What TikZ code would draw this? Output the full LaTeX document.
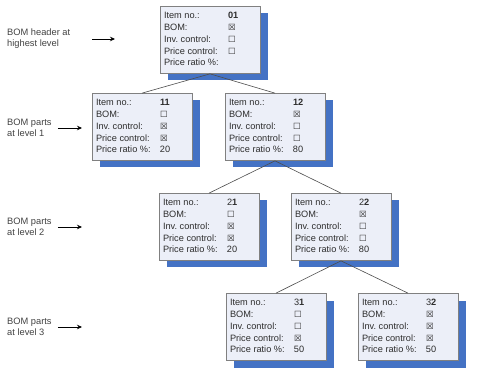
\documentclass[tikz,border=0pt]{standalone}
\usepackage{fontspec}
\setmainfont{Liberation Sans}
\newfontfamily\boxsym{DejaVu Sans}
\usepackage{tikz}
\usetikzlibrary{arrows.meta,shadows}

\definecolor{boxfill}{RGB}{236, 239, 248}
\definecolor{boxline}{RGB}{128, 128, 128}
\definecolor{shadowblue}{RGB}{68, 114, 196}
\definecolor{textgray}{RGB}{45, 45, 45}

% check boxes
\newcommand{\cbno}{{\boxsym\fontsize{8.5}{8.5}\selectfont ☐}}
\newcommand{\cbyes}{{\boxsym\fontsize{8.5}{8.5}\selectfont ☒}}

% contents of one BOM item
\newcommand{\bomtab}[5]{%
  \begin{tabular}{@{}p{64pt}@{}p{28pt}@{}}
    Item no.: & #1\\
    BOM: & #2\\
    Inv.\ control: & #3\\
    Price control: & #4\\
    Price ratio \%: & #5
  \end{tabular}}

\begin{document}
\begin{tikzpicture}[x=1pt, y=-1pt, >=Stealth]

        \useasboundingbox (0, 0) rectangle (479, 379);
        \tikzset{
            bom/.style={draw=boxline, line width=0.7pt, fill=boxfill, text=textgray, minimum width=100pt, minimum height=67pt, inner sep=0pt, font=\fontsize{9.2}{11.75}\selectfont, drop shadow={shadow xshift=8pt, shadow yshift=-7pt, fill=shadowblue, opacity=1}},
            level/.style={anchor=west, align=left, inner sep=0pt, text=textgray!90, font=\fontsize{9.3}{11}\selectfont},
            arrow/.style={-{Stealth[length=5pt, width=4.5pt]}, line width=0.7pt, draw=black},
            tree/.style={line width=0.6pt, draw=black!70}
        }


        \node[level] (lvl0) at (7, 39) {BOM header at\\highest level};
        \node[level] (lvl1) at (7, 128) {BOM parts\\at level 1};
        \node[level] (lvl2) at (7, 227) {BOM parts\\at level 2};
        \node[level] (lvl3) at (7, 327) {BOM parts\\at level 3};

        \coordinate (tip0) at (115, 39);
        \coordinate (tip1) at (82, 128);
        \coordinate (tip2) at (82, 227);
        \coordinate (tip3) at (82, 327);


        \node[bom] (b01) at (210, 40) {\bomtab{\textbf{01}}{\cbyes}{\cbno}{\cbno}{}};

        \node[bom] (b11) at (142, 127) {\bomtab{\textbf{11}}{\cbno}{\cbyes}{\cbyes}{20}};
        \node[bom] (b12) at (275, 127) {\bomtab{\textbf{12}}{\cbyes}{\cbno}{\cbno}{80}};

        \node[bom] (b21) at (209, 227) {\bomtab{2\textbf{1}}{\cbno}{\cbyes}{\cbyes}{20}};
        \node[bom] (b22) at (341, 227) {\bomtab{2\textbf{2}}{\cbyes}{\cbno}{\cbno}{80}};

        \node[bom] (b31) at (276, 327) {\bomtab{3\textbf{1}}{\cbno}{\cbno}{\cbyes}{50}};
        \node[bom] (b32) at (408, 327) {\bomtab{3\textbf{2}}{\cbyes}{\cbyes}{\cbyes}{50}};


        \draw[arrow, shorten <=22pt] (lvl0.east) -- (tip0);
        \draw[arrow, shorten <=6pt] (lvl1.east) -- (tip1);
        \draw[arrow, shorten <=6pt] (lvl2.east) -- (tip2);
        \draw[arrow, shorten <=6pt] (lvl3.east) -- (tip3);


        \draw[tree] (b01.south) -- (b11.north);
        \draw[tree] (b01.south) -- (b12.north);
        \draw[tree] (b12.south) -- (b21.north);
        \draw[tree] (b12.south) -- (b22.north);
        \draw[tree] (b22.south) -- (b31.north);
        \draw[tree] (b22.south) -- (b32.north);

    \end{tikzpicture}
\end{document}
